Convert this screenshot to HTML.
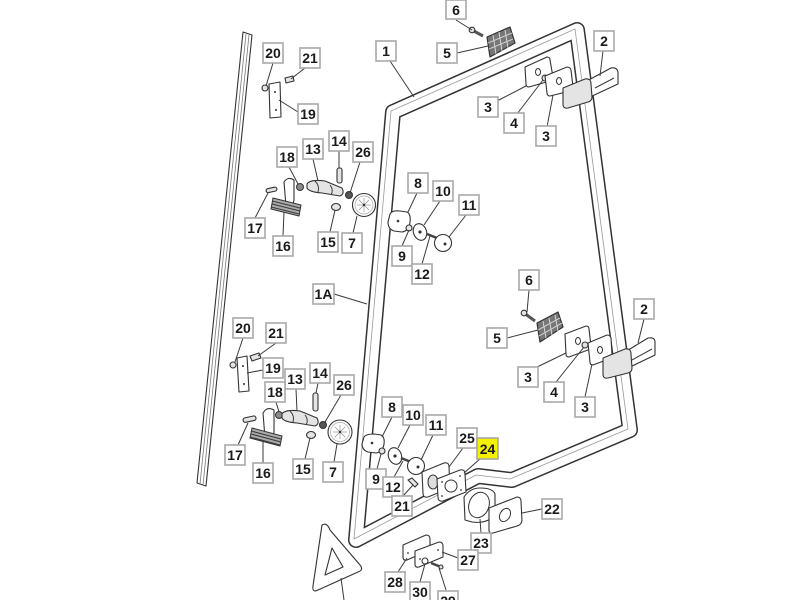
<!DOCTYPE html>
<html><head><meta charset="utf-8"><style>
html,body{margin:0;padding:0;background:#fff;}
svg{display:block;}
.l{stroke:#3a3a3a;stroke-width:1;fill:none;}
.p{stroke:#333;stroke-width:1.1;fill:#fff;stroke-linejoin:round;}
.g{stroke:#333;stroke-width:1.1;fill:#e4e4e4;stroke-linejoin:round;}
.d{stroke:#333;stroke-width:1;fill:#8a8a8a;}
.t{font-family:"Liberation Sans",Arial,sans-serif;font-weight:bold;font-size:14px;fill:#1a1a1a;text-anchor:middle;}
.b{fill:#fff;stroke:#a8a8a8;stroke-width:1.6;}
.y{fill:#f4f000;stroke:#a8a8a8;stroke-width:1.6;}
</style></head><body>
<svg width="800" height="600" viewBox="0 0 800 600" xmlns="http://www.w3.org/2000/svg">
<polygon class="p" points="243,32 252,35 206,486 197,483"/>
<line x1="246" y1="34" x2="200" y2="484" stroke="#777" stroke-width="0.8"/>
<line x1="249" y1="35" x2="203" y2="485" stroke="#777" stroke-width="0.8"/>

<path d="M393,112 L577,30 L630,430 L512,480 L478,476 L356,540 Z" fill="none" stroke="#333" stroke-width="16" stroke-linejoin="round"/>
<path d="M393,112 L577,30 L630,430 L512,480 L478,476 L356,540 Z" fill="none" stroke="#fff" stroke-width="13" stroke-linejoin="round"/>
<path d="M393,112 L577,30 L630,430 L512,480 L478,476 L356,540 Z" fill="none" stroke="#999" stroke-width="0.8" stroke-linejoin="round" transform="translate(-2,-1)"/>

<path class="p" d="M322,525 Q327,522 330,530 L360,565 Q364,570 358,572 L318,590 Q312,593 313,586 Z" stroke-width="1.3"/>
<path class="p" d="M325,575 L332,548 L343,567 Z"/>
<line class="l" x1="341" y1="578" x2="344" y2="600"/>

<circle class="g" cx="265" cy="88" r="3"/>
<path class="g" d="M285,78 L293,76 L294,81 L286,83 Z"/>
<polygon class="p" points="269,84 280,82 281,117 270,118"/>
<circle cx="275" cy="92" r="1" fill="#333"/><circle cx="276" cy="110" r="1" fill="#333"/>
<circle class="d" cx="300" cy="187" r="3.5"/>
<rect class="g" x="266" y="188" width="11" height="4" rx="2" transform="rotate(-12 271 190)"/>
<path class="p" d="M284,182 Q288,176 294,180 L294,200 Q292,210 286,206 Z"/>
<polygon points="273,198 301,205 299,216 271,209" fill="#aaa" stroke="#333"/>
<line class="l" x1="272" y1="201" x2="300" y2="208"/><line class="l" x1="272" y1="204" x2="300" y2="211"/><line class="l" x1="271" y1="207" x2="299" y2="214"/>
<path class="g" d="M307,184 Q310,179 325,181 L342,188 Q345,194 340,196 L322,193 Q309,192 307,188 Z" fill="#ececec"/>
<path class="l" d="M315,181 Q320,186 318,192 M330,185 Q334,190 331,195"/>
<rect class="g" x="337" y="168" width="5" height="15" rx="2"/>
<circle cx="349" cy="195" r="3.5" fill="#555" stroke="#333"/>
<ellipse class="g" cx="336" cy="207" rx="4.5" ry="3.5"/>
<circle class="p" cx="364" cy="205" r="11.5"/>
<circle cx="364" cy="205" r="9" fill="none" stroke="#aaa" stroke-width="0.7"/>
<g stroke="#888" stroke-width="0.6"><line x1="357" y1="205" x2="371" y2="205"/><line x1="364" y1="198" x2="364" y2="212"/><line x1="359" y1="200" x2="369" y2="210"/><line x1="369" y1="200" x2="359" y2="210"/></g>
<circle cx="364" cy="205" r="1.2" fill="#333"/>

<path class="p" d="M390,214 Q392,210 400,211 L407,212 Q411,214 410,222 Q409,231 402,232 L394,231 Q388,229 388,222 Z"/>
<circle cx="398" cy="221" r="1.3" fill="#333"/>
<circle class="g" cx="409" cy="228" r="3"/>
<ellipse class="p" cx="420" cy="232" rx="6.5" ry="8.5" transform="rotate(-20 420 232)"/>
<circle cx="420" cy="232" r="1.6" fill="#333"/>
<line x1="427" y1="234" x2="437" y2="238" stroke="#444" stroke-width="2.5"/>
<circle class="p" cx="443" cy="243" r="8.5"/>
<circle cx="445" cy="244" r="1.5" fill="#333"/>

<line x1="472" y1="30" x2="483" y2="36" stroke="#555" stroke-width="3"/>
<circle class="g" cx="472" cy="30" r="2.8"/>
<polygon points="487,37 510,27 515,43 490,57" fill="#777" stroke="#333" stroke-width="1.2" stroke-linejoin="round"/>
<g stroke="#ddd" stroke-width="0.9"><line x1="493" y1="35" x2="496" y2="54"/><line x1="499" y1="32" x2="502" y2="51"/><line x1="505" y1="30" x2="508" y2="48"/><line x1="488" y1="43" x2="512" y2="33"/><line x1="489" y1="49" x2="513" y2="39"/></g>
<path class="p" d="M525,67 L547,57 Q550,57 550,60 L553,77 Q553,80 550,81 L529,87 Q526,87 526,84 Z"/>
<ellipse cx="538" cy="72" rx="2.5" ry="3.5" fill="none" stroke="#333"/>
<circle class="g" cx="545" cy="78" r="3"/>
<path class="p" d="M545,76 L567,67 Q570,67 571,70 L573,87 Q573,90 570,91 L550,96 Q547,96 547,93 Z"/>
<ellipse cx="559" cy="81" rx="2.5" ry="3.5" fill="none" stroke="#333"/>
<path class="p" d="M585,82 L611,68 Q617,67 618,72 L618,84 L590,97 Z"/>
<line class="l" x1="595" y1="88" x2="614" y2="78"/>
<path class="g" d="M563,88 L585,79 Q591,78 591,84 L592,97 Q592,101 588,102 L568,108 Q563,109 563,104 Z"/>

<line x1="524" y1="313" x2="535" y2="321" stroke="#555" stroke-width="3"/>
<circle class="g" cx="524" cy="313" r="2.8"/>
<polygon points="537,323 558,312 563,327 540,342" fill="#777" stroke="#333" stroke-width="1.2" stroke-linejoin="round"/>
<g stroke="#ddd" stroke-width="0.9"><line x1="543" y1="321" x2="546" y2="338"/><line x1="549" y1="318" x2="552" y2="335"/><line x1="555" y1="315" x2="558" y2="331"/><line x1="538" y1="330" x2="560" y2="318"/><line x1="539" y1="336" x2="562" y2="323"/></g>
<path class="p" d="M565,334 L586,326 Q589,326 589,329 L591,346 Q591,349 588,350 L569,357 Q566,357 566,354 Z"/>
<ellipse cx="578" cy="341" rx="2.5" ry="3.5" fill="none" stroke="#333"/>
<circle class="g" cx="585" cy="345" r="3"/>
<path class="p" d="M588,343 L607,335 Q610,335 611,338 L612,355 Q612,358 609,359 L593,365 Q590,365 590,362 Z"/>
<ellipse cx="600" cy="350" rx="2.5" ry="3.5" fill="none" stroke="#333"/>
<path class="p" d="M625,352 L648,338 Q655,337 655,342 L655,355 L628,368 Z"/>
<line class="l" x1="632" y1="360" x2="652" y2="349"/>
<path class="g" d="M603,358 L625,349 Q631,348 631,354 L632,368 Q632,372 628,373 L608,378 Q603,379 603,374 Z"/>

<circle class="g" cx="233" cy="365" r="3"/>
<path class="g" d="M250,356 L259,353 L261,358 L252,361 Z"/>
<polygon class="p" points="237,358 247,356 249,391 239,392"/>
<circle cx="243" cy="366" r="1" fill="#333"/><circle cx="244" cy="384" r="1" fill="#333"/>
<circle class="d" cx="279" cy="415" r="3.5"/>
<rect class="g" x="243" y="417" width="13" height="4.5" rx="2" transform="rotate(-12 249 419)"/>
<path class="p" d="M263,413 Q267,406 274,410 L274,432 Q272,442 265,438 Z"/>
<polygon points="252,428 282,436 280,446 250,438" fill="#aaa" stroke="#333"/>
<line class="l" x1="251" y1="431" x2="281" y2="439"/><line class="l" x1="251" y1="434" x2="281" y2="442"/><line class="l" x1="250" y1="437" x2="280" y2="445"/>
<path class="g" d="M282,414 Q285,409 300,411 L317,418 Q320,424 315,426 L297,423 Q284,422 282,418 Z" fill="#ececec"/>
<path class="l" d="M290,411 Q295,416 293,422 M305,415 Q309,420 306,425"/>
<rect class="g" x="313" y="393" width="5" height="18" rx="2"/>
<circle cx="323" cy="425" r="3.5" fill="#555" stroke="#333"/>
<ellipse class="g" cx="311" cy="435" rx="4.5" ry="3.5"/>
<circle class="p" cx="340" cy="432" r="12"/>
<circle cx="340" cy="432" r="9.5" fill="none" stroke="#aaa" stroke-width="0.7"/>
<g stroke="#888" stroke-width="0.6"><line x1="333" y1="432" x2="347" y2="432"/><line x1="340" y1="425" x2="340" y2="439"/><line x1="335" y1="427" x2="345" y2="437"/><line x1="345" y1="427" x2="335" y2="437"/></g>
<circle cx="340" cy="432" r="1.2" fill="#333"/>

<path class="p" d="M364,437 Q366,434 374,434 L381,435 Q385,437 384,444 Q383,452 376,453 L368,452 Q362,450 362,444 Z"/>
<circle cx="372" cy="443" r="1.3" fill="#333"/>
<circle class="g" cx="382" cy="451" r="3"/>
<ellipse class="p" cx="395" cy="456" rx="6.5" ry="8.5" transform="rotate(-20 395 456)"/>
<circle cx="395" cy="456" r="1.6" fill="#333"/>
<line x1="401" y1="458" x2="411" y2="462" stroke="#444" stroke-width="2.5"/>
<circle class="p" cx="416" cy="466" r="8.5"/>
<circle cx="418" cy="467" r="1.5" fill="#333"/>
<path class="g" d="M408,480 L412,478 L418,484 L415,487 Z"/>

<path class="p" d="M422,472 L444,463 Q449,462 449,467 L450,488 L428,497 Q423,498 423,493 Z"/>
<ellipse cx="433" cy="482" rx="5" ry="7" fill="#ddd" stroke="#333"/>
<path class="p" d="M437,479 L460,470 Q465,469 465,474 L466,492 L443,501 Q438,502 438,497 Z"/>
<circle cx="451" cy="486" r="6" fill="none" stroke="#333"/>
<circle cx="442" cy="482" r="0.9" fill="#333"/><circle cx="460" cy="476" r="0.9" fill="#333"/><circle cx="442" cy="496" r="0.9" fill="#333"/><circle cx="461" cy="490" r="0.9" fill="#333"/>

<path class="p" d="M464,497 Q470,488 480,488 Q493,488 495,494 L495,515 Q487,524 472,522 L465,520 Z"/>
<ellipse cx="479" cy="505" rx="10" ry="13" fill="#fff" stroke="#333" transform="rotate(20 479 505)"/>
<path class="p" d="M489,508 L517,497 Q521,497 521,501 L522,521 Q521,525 517,526 L493,533 Q489,534 489,530 Z"/>
<ellipse cx="505" cy="515" rx="5" ry="7" fill="#fff" stroke="#333" transform="rotate(30 505 515)"/>

<path class="p" d="M403,545 L426,535 Q430,535 430,539 L430,550 L407,560 Q403,561 403,557 Z"/>
<path class="p" d="M415,551 L439,542 Q443,542 443,546 L443,557 L419,567 Q415,568 415,564 Z"/>
<circle cx="408" cy="553" r="0.9" fill="#333"/><circle cx="420" cy="559" r="0.9" fill="#333"/><circle cx="438" cy="550" r="0.9" fill="#333"/>
<circle class="p" cx="425" cy="561" r="3"/>
<line x1="431" y1="563" x2="441" y2="567" stroke="#444" stroke-width="2.5"/>
<circle class="g" cx="441" cy="567" r="2"/>

<g class="l">
<line x1="456" y1="20" x2="472" y2="30"/>
<line x1="457" y1="53" x2="488" y2="46"/>
<line x1="390" y1="61" x2="414" y2="97"/>
<line x1="603" y1="51" x2="600" y2="76"/>
<line x1="497" y1="101" x2="526" y2="86"/>
<line x1="517" y1="114" x2="543" y2="80"/>
<line x1="547" y1="127" x2="553" y2="95"/>
<line x1="273" y1="63" x2="266" y2="86"/>
<line x1="305" y1="68" x2="291" y2="79"/>
<line x1="298" y1="112" x2="279" y2="100"/>
<line x1="289" y1="167" x2="298" y2="184"/>
<line x1="313" y1="159" x2="318" y2="181"/>
<line x1="339" y1="151" x2="339" y2="168"/>
<line x1="360" y1="162" x2="350" y2="193"/>
<line x1="255" y1="218" x2="268" y2="193"/>
<line x1="283" y1="236" x2="284" y2="212"/>
<line x1="330" y1="232" x2="335" y2="210"/>
<line x1="353" y1="233" x2="357" y2="216"/>
<line x1="417" y1="193" x2="408" y2="212"/>
<line x1="402" y1="246" x2="409" y2="230"/>
<line x1="440" y1="201" x2="424" y2="225"/>
<line x1="422" y1="264" x2="430" y2="236"/>
<line x1="466" y1="215" x2="449" y2="237"/>
<line x1="334" y1="294" x2="367" y2="304"/>
<line x1="529" y1="290" x2="527" y2="312"/>
<line x1="507" y1="338" x2="538" y2="330"/>
<line x1="535" y1="368" x2="566" y2="353"/>
<line x1="556" y1="382" x2="584" y2="347"/>
<line x1="585" y1="397" x2="592" y2="364"/>
<line x1="644" y1="319" x2="638" y2="343"/>
<line x1="243" y1="338" x2="235" y2="362"/>
<line x1="276" y1="343" x2="258" y2="356"/>
<line x1="263" y1="370" x2="247" y2="373"/>
<line x1="276" y1="402" x2="279" y2="412"/>
<line x1="296" y1="389" x2="297" y2="411"/>
<line x1="318" y1="383" x2="316" y2="393"/>
<line x1="341" y1="395" x2="325" y2="422"/>
<line x1="238" y1="445" x2="248" y2="423"/>
<line x1="263" y1="463" x2="263" y2="440"/>
<line x1="305" y1="459" x2="310" y2="438"/>
<line x1="334" y1="462" x2="337" y2="444"/>
<line x1="392" y1="417" x2="382" y2="437"/>
<line x1="377" y1="469" x2="381" y2="454"/>
<line x1="410" y1="425" x2="398" y2="448"/>
<line x1="394" y1="477" x2="403" y2="461"/>
<line x1="433" y1="435" x2="421" y2="460"/>
<line x1="403" y1="496" x2="413" y2="485"/>
<line x1="463" y1="448" x2="449" y2="467"/>
<line x1="481" y1="458" x2="464" y2="473"/>
<line x1="481" y1="533" x2="480" y2="519"/>
<line x1="542" y1="509" x2="522" y2="513"/>
<line x1="458" y1="558" x2="442" y2="552"/>
<line x1="398" y1="572" x2="407" y2="558"/>
<line x1="420" y1="582" x2="425" y2="564"/>
<line x1="446" y1="590" x2="439" y2="568"/>
</g>

<g>
<rect class="b" x="446" y="0" width="20" height="19"/><text class="t" x="456" y="15">6</text>
<rect class="b" x="437" y="43" width="20" height="20"/><text class="t" x="447" y="58">5</text>
<rect class="b" x="376" y="41" width="20" height="20"/><text class="t" x="386" y="56">1</text>
<rect class="b" x="594" y="31" width="20" height="20"/><text class="t" x="604" y="46">2</text>
<rect class="b" x="478" y="97" width="20" height="20"/><text class="t" x="488" y="112">3</text>
<rect class="b" x="504" y="113" width="20" height="20"/><text class="t" x="514" y="128">4</text>
<rect class="b" x="536" y="126" width="20" height="20"/><text class="t" x="546" y="141">3</text>
<rect class="b" x="263" y="43" width="20" height="20"/><text class="t" x="273" y="58">20</text>
<rect class="b" x="300" y="48" width="20" height="20"/><text class="t" x="310" y="63">21</text>
<rect class="b" x="298" y="104" width="20" height="20"/><text class="t" x="308" y="119">19</text>
<rect class="b" x="277" y="147" width="20" height="20"/><text class="t" x="287" y="162">18</text>
<rect class="b" x="303" y="139" width="20" height="20"/><text class="t" x="313" y="154">13</text>
<rect class="b" x="329" y="131" width="20" height="20"/><text class="t" x="339" y="146">14</text>
<rect class="b" x="353" y="142" width="20" height="20"/><text class="t" x="363" y="157">26</text>
<rect class="b" x="245" y="218" width="20" height="20"/><text class="t" x="255" y="233">17</text>
<rect class="b" x="273" y="236" width="20" height="20"/><text class="t" x="283" y="251">16</text>
<rect class="b" x="318" y="232" width="20" height="20"/><text class="t" x="328" y="247">15</text>
<rect class="b" x="342" y="233" width="20" height="20"/><text class="t" x="352" y="248">7</text>
<rect class="b" x="408" y="173" width="20" height="20"/><text class="t" x="418" y="188">8</text>
<rect class="b" x="433" y="181" width="20" height="20"/><text class="t" x="443" y="196">10</text>
<rect class="b" x="459" y="195" width="20" height="20"/><text class="t" x="469" y="210">11</text>
<rect class="b" x="392" y="246" width="20" height="20"/><text class="t" x="402" y="261">9</text>
<rect class="b" x="412" y="264" width="20" height="20"/><text class="t" x="422" y="279">12</text>
<rect class="b" x="313" y="284" width="21" height="20"/><text class="t" x="323.5" y="299">1A</text>
<rect class="b" x="519" y="270" width="20" height="20"/><text class="t" x="529" y="285">6</text>
<rect class="b" x="487" y="328" width="20" height="20"/><text class="t" x="497" y="343">5</text>
<rect class="b" x="634" y="299" width="20" height="20"/><text class="t" x="644" y="314">2</text>
<rect class="b" x="518" y="367" width="20" height="20"/><text class="t" x="528" y="382">3</text>
<rect class="b" x="544" y="382" width="20" height="20"/><text class="t" x="554" y="397">4</text>
<rect class="b" x="575" y="397" width="20" height="20"/><text class="t" x="585" y="412">3</text>
<rect class="b" x="233" y="318" width="20" height="20"/><text class="t" x="243" y="333">20</text>
<rect class="b" x="266" y="323" width="20" height="20"/><text class="t" x="276" y="338">21</text>
<rect class="b" x="263" y="358" width="20" height="20"/><text class="t" x="273" y="373">19</text>
<rect class="b" x="285" y="369" width="20" height="20"/><text class="t" x="295" y="384">13</text>
<rect class="b" x="310" y="363" width="20" height="20"/><text class="t" x="320" y="378">14</text>
<rect class="b" x="265" y="382" width="20" height="20"/><text class="t" x="275" y="397">18</text>
<rect class="b" x="334" y="375" width="20" height="20"/><text class="t" x="344" y="390">26</text>
<rect class="b" x="225" y="445" width="20" height="20"/><text class="t" x="235" y="460">17</text>
<rect class="b" x="253" y="463" width="20" height="20"/><text class="t" x="263" y="478">16</text>
<rect class="b" x="293" y="459" width="20" height="20"/><text class="t" x="303" y="474">15</text>
<rect class="b" x="323" y="462" width="20" height="20"/><text class="t" x="333" y="477">7</text>
<rect class="b" x="382" y="397" width="20" height="20"/><text class="t" x="392" y="412">8</text>
<rect class="b" x="403" y="405" width="20" height="20"/><text class="t" x="413" y="420">10</text>
<rect class="b" x="426" y="415" width="20" height="20"/><text class="t" x="436" y="430">11</text>
<rect class="b" x="457" y="428" width="20" height="20"/><text class="t" x="467" y="443">25</text>
<rect class="y" x="477" y="438" width="21" height="21"/><text class="t" x="487.5" y="454">24</text>
<rect class="b" x="366" y="469" width="20" height="20"/><text class="t" x="376" y="484">9</text>
<rect class="b" x="383" y="477" width="20" height="20"/><text class="t" x="393" y="492">12</text>
<rect class="b" x="392" y="496" width="20" height="20"/><text class="t" x="402" y="511">21</text>
<rect class="b" x="542" y="499" width="20" height="20"/><text class="t" x="552" y="514">22</text>
<rect class="b" x="471" y="533" width="20" height="20"/><text class="t" x="481" y="548">23</text>
<rect class="b" x="458" y="550" width="20" height="20"/><text class="t" x="468" y="565">27</text>
<rect class="b" x="385" y="572" width="20" height="20"/><text class="t" x="395" y="587">28</text>
<rect class="b" x="410" y="582" width="20" height="20"/><text class="t" x="420" y="597">30</text>
<rect class="b" x="438" y="591" width="20" height="20"/><text class="t" x="448" y="606">29</text>
</g>
</svg>
</body></html>
